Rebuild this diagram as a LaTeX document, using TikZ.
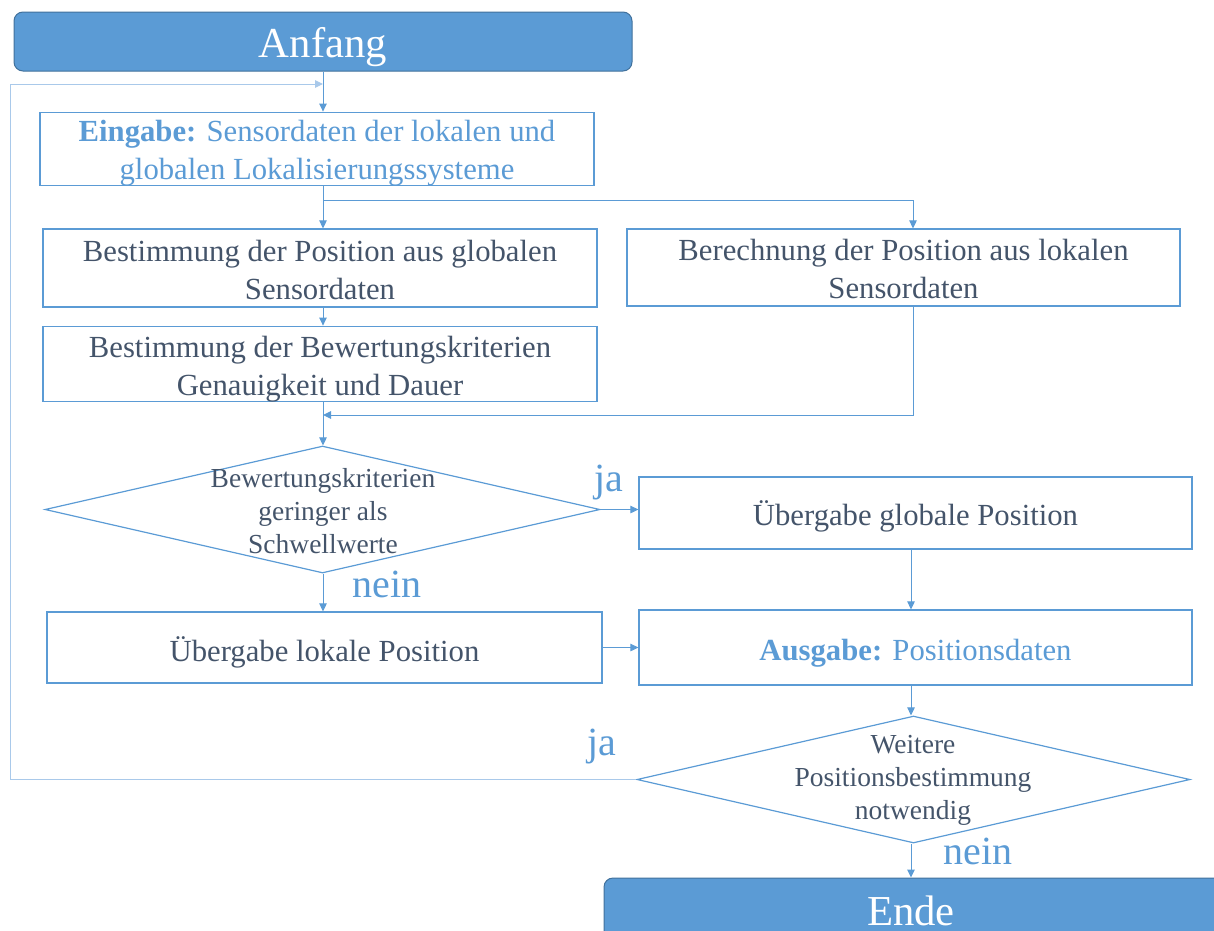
\documentclass[tikz,border=0pt]{standalone}
\usepackage{fontspec}
\setmainfont{Liberation Serif}
\usetikzlibrary{shapes.geometric,arrows.meta}
\definecolor{flowblue}{HTML}{5B9BD5}
\definecolor{flowlight}{HTML}{A9C9EA}
\definecolor{flowdark}{HTML}{44546A}
\definecolor{flowedge}{HTML}{41719C}
% strut that lowers the first text line inside a box
\newcommand{\lift}[1]{\rule{0pt}{#1pt}}
\tikzset{
  box/.style={draw=flowblue, line width=1.2pt, rectangle, inner sep=0pt, align=center,
    text=flowdark, font=\fontsize{30.7}{38}\selectfont},
  term/.style={draw=flowedge, line width=1pt, fill=flowblue, rounded corners=9pt, inner sep=0pt,
    text=white, font=\fontsize{42.7}{48}\selectfont},
  dia/.style={draw=flowblue, line width=1.2pt, diamond, inner sep=0pt},
  diatext/.style={align=center, text=flowdark, font=\fontsize{27.5}{33}\selectfont},
  lab/.style={text=flowblue, font=\fontsize{40}{44}\selectfont},
  arr/.style={draw=flowblue, line width=1pt, -{Triangle[length=8pt,width=7.5pt]}},
  looparr/.style={arr, draw=flowlight}
}
\begin{document}
\begin{tikzpicture}[x=1pt,y=-1pt]
\useasboundingbox (0,0) rectangle (1214,930);
\clip (0,0) rectangle (1214,930);

% terminals
\node[term, minimum width=618pt, minimum height=59pt] (anf) at (323,41.5) {\lift{41}Anfang};
\node[term, minimum width=624pt, minimum height=66pt] (ende) at (916,911) {\hspace*{-10pt}Ende};

% process boxes
\node[box, text=flowblue, minimum width=554pt, minimum height=72pt] (ein) at (317,149)
  {\lift{29}\textbf{Eingabe:} Sensordaten der lokalen und\\globalen Lokalisierungssysteme};
\node[box, minimum width=554pt, minimum height=78pt] (b1) at (320,268)
  {\lift{25}Bestimmung der Position aus globalen\\Sensordaten};
\node[box, minimum width=553pt, minimum height=77pt] (bR) at (903.5,267.5)
  {\lift{25}Berechnung der Position aus lokalen\\Sensordaten};
\node[box, minimum width=554pt, minimum height=74pt] (b2) at (320,364)
  {\lift{31}Bestimmung der Bewertungskriterien\\Genauigkeit und Dauer};
\node[box, minimum width=553pt, minimum height=72pt] (gg) at (915.5,513)
  {\lift{32.5}\"Ubergabe globale Position};
\node[box, minimum width=555pt, minimum height=71pt] (ll) at (324.5,647.5)
  {\lift{34}\"Ubergabe lokale Position};
\node[box, text=flowblue, minimum width=553pt, minimum height=75pt] (out) at (915.5,647.5)
  {\lift{33.5}\textbf{Ausgabe:} Positionsdaten};

% decisions
\node[dia, minimum width=555pt, minimum height=127pt] (d1) at (322.5,509.5) {};
\node[diatext] (d1t) at (323,511) {Bewertungskriterien\\geringer als\\Schwellwerte};
\node[dia, minimum width=553pt, minimum height=127pt] (d2) at (913.5,779.5) {};
\node[diatext] (d2t) at (913,780) {Weitere\\Positionsbestimmung\\notwendig};

% branch labels
\node[lab] (ja1) at (609,483) {ja};
\node[lab] (nein1) at (387,584) {nein};
\node[lab] (ja2) at (602,746) {ja};
\node[lab] (nein2) at (978,851) {nein};

% routing points
\coordinate (cx) at (323,0);
\coordinate (rx) at (913,0);
\coordinate (ox) at (911,0);
\coordinate (j1) at (323,84);
\coordinate (lp) at (10,84);
\coordinate (br) at (323,200);
\coordinate (mg) at (323,415);

% connectors
\draw[arr] (anf.south) -- (cx |- ein.north);
\draw[looparr] (d2.west) -| (lp) -- (j1);
\draw[arr] (cx |- ein.south) -- (cx |- b1.north);
\draw[arr] (br) -| (rx |- bR.north);
\draw[arr] (cx |- b1.south) -- (cx |- b2.north);
\draw[arr] (rx |- bR.south) |- (mg);
\draw[arr] (cx |- b2.south) -- (cx |- d1.north);
\draw[arr] (d1.east) -- (d1.east -| gg.west);
\draw[arr] (cx |- d1.south) -- (cx |- ll.north);
\draw[arr] (ll.east) -- (ll.east -| out.west);
\draw[arr] (ox |- gg.south) -- (ox |- out.north);
\draw[arr] (ox |- out.south) -- (ox |- d2.north);
\draw[arr] (ox |- d2.south) -- (ox |- ende.north);
\end{tikzpicture}
\end{document}
